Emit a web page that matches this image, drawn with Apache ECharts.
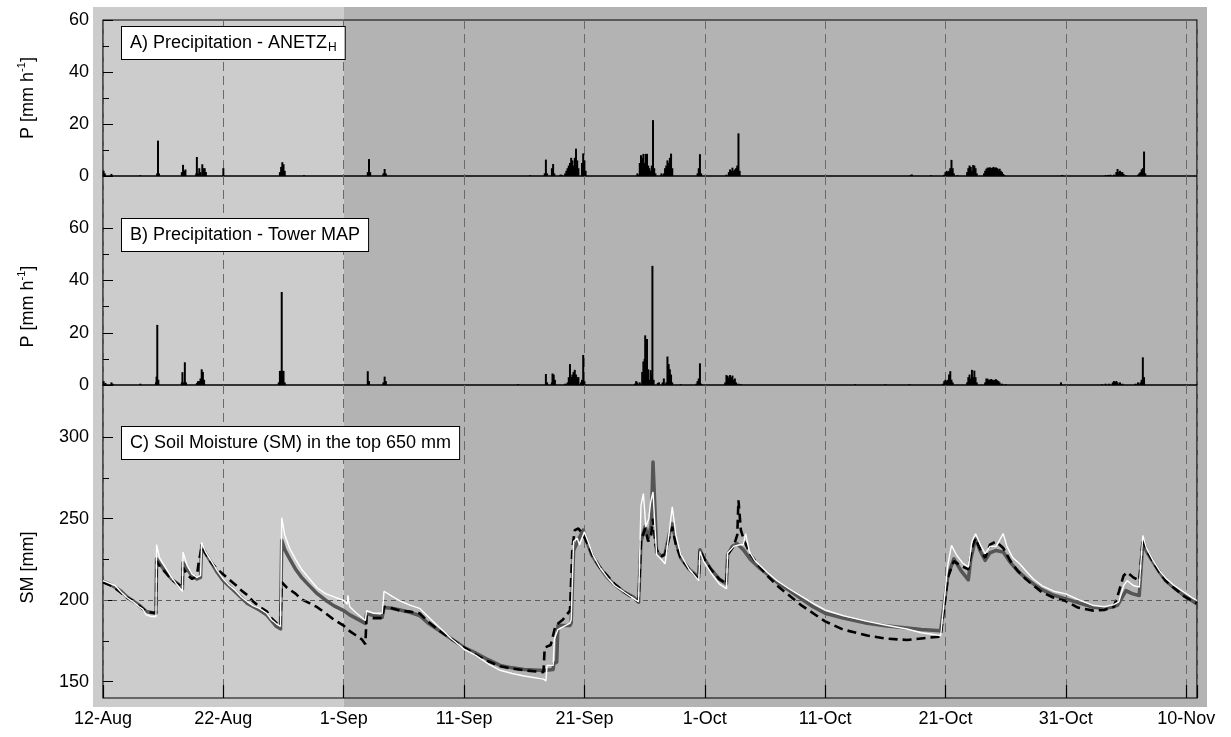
<!DOCTYPE html>
<html>
<head>
<meta charset="utf-8">
<script src="https://cdn.jsdelivr.net/npm/echarts@6/dist/echarts.min.js"></script>
<style>
html,body{margin:0;padding:0;background:#fff;}
#c{width:1231px;height:737px;}
</style>
</head>
<body>
<div id="c"></div>
<script>
// x positions are days since 12-Aug
const tickDays = [0,10,20,30,40,50,60,70,80,90];
const tickLabels = ["12-Aug","22-Aug","1-Sep","11-Sep","21-Sep","1-Oct","11-Oct","21-Oct","31-Oct","10-Nov"];
const xMax = 90.9;
const splitDay = 20; // 1-Sep, start of darker shaded period

// A) Precipitation - ANETZ_H  [day, mm/h]
const precipAnetz = [[0.05,2],[0.15,1],[0.7,0.8],[3.1,0.3],[4.5,1],[4.57,13.6],[4.65,1],[6.55,1.5],[6.65,4.3],[6.75,2],[6.85,2.5],[7.75,1],[7.8,7.3],[7.9,1],[8.0,3],[8.1,1.5],[8.25,4.5],[8.35,3],[8.45,3],[8.55,1.5],[10.0,3],[14.7,1.5],[14.8,3.5],[14.9,5.3],[15.0,4.5],[15.1,2],[16.7,0.3],[22.0,1.5],[22.1,6.5],[22.2,1.5],[23.3,1],[23.4,2.7],[23.5,1],
[35.5,0.3],[36.7,1],[36.8,6.3],[36.9,1],[37.3,3],[37.4,4.6],[37.5,1],[38.0,0.5],[38.1,0.5],[38.4,1],[38.5,2],[38.6,3],[38.7,4],[38.8,5],[38.9,7],[39.0,6],[39.1,4],[39.2,7],[39.3,10.5],[39.4,6],[39.5,3],[39.8,5],[39.9,8.7],[40.0,6],[40.1,2],
[44.4,1],[44.5,0.5],[44.6,5],[44.7,8],[44.8,7],[44.9,8.5],[45.0,5],[45.1,8.5],[45.2,8.5],[45.3,4],[45.4,3],[45.5,2],[45.6,4],[45.7,21.5],[45.8,3],[45.9,1],[46.4,1],[46.6,1],[46.7,3],[46.8,4],[46.9,6],[47.0,5],[47.1,7],[47.2,8.6],[47.3,3],[49.4,1],[49.5,3],[49.6,8.4],[49.7,1],[51.8,0.5],[52.0,1.5],[52.1,2.5],[52.2,2],[52.3,3.2],[52.4,2],[52.5,2.5],[52.6,3],[52.7,4],[52.8,16.4],[52.9,2],
[67.1,0.4],[67.2,0.6],[68.8,0.3],[69.9,0.5],[70.0,1.5],[70.1,2],[70.2,1.5],[70.3,2],[70.4,3],[70.5,6.2],[70.6,3],[70.7,1],[71.0,0.3],[71.8,1.5],[71.9,3],[72.0,4],[72.1,3.5],[72.2,2],[72.3,4.2],[72.4,4],[72.5,3],[72.6,1],[73.2,1],[73.3,2],[73.4,2.8],[73.5,3.2],[73.6,3.2],[73.7,3.3],[73.8,3],[73.9,3.2],[74.0,3.5],[74.1,3],[74.2,3.3],[74.3,3],[74.4,2.5],[74.5,2.8],[74.6,2],[74.7,1.5],[74.8,0.8],[74.9,0.3],[79.7,0.4],[83.3,0.3],[83.5,0.4],[83.7,0.5],[84.0,0.5],[84.2,1.5],[84.3,2.7],[84.4,1.5],[84.5,2],[84.6,1.5],[84.7,1.5],[84.8,0.8],[85.0,0.3],[86.0,0.5],[86.1,1],[86.2,1.5],[86.3,2.5],[86.4,3],[86.5,9.4],[86.6,1]];

// B) Precipitation - Tower MAP  [day, mm/h]
const precipTower = [[0.05,1.5],[0.2,0.8],[0.7,1],[0.8,0.5],[3.1,0.5],[4.4,1],[4.45,3.2],[4.51,23],[4.6,2],[6.55,1],[6.6,4.9],[6.7,1],[6.8,8.7],[6.9,1],[7.8,0.8],[7.9,1.5],[8.0,1.5],[8.1,2.5],[8.2,6],[8.3,5],[8.4,2],[14.6,1],[14.7,5.4],[14.8,5.4],[14.85,35.6],[14.9,5.4],[15.0,5.4],[15.1,1],[22.0,5.3],[22.1,1.5],[23.3,1],[23.4,3.2],[23.5,1.5],
[34.5,0.3],[36.8,4.2],[36.9,1],[37.3,1],[37.35,4.4],[37.45,4],[37.55,2],[38.4,0.5],[38.6,1],[38.7,3],[38.8,8],[38.9,3],[39.0,4],[39.1,5],[39.2,5.8],[39.3,4],[39.4,3],[39.5,3],[39.7,1],[39.8,2],[39.9,11.5],[40.0,1.5],
[44.2,0.5],[44.3,1.5],[44.4,1],[44.6,1],[44.8,5],[44.9,9],[45.0,10],[45.05,19],[45.1,5],[45.2,17.6],[45.3,6],[45.4,2],[45.5,5.7],[45.6,4],[45.65,45.6],[45.75,2],[46.1,0.8],[46.2,1],[46.5,1],[46.6,2.5],[46.8,1],[46.9,10.9],[47.0,8],[47.1,6],[47.2,4],[47.3,1],[48.0,0.3],[49.3,0.5],[49.4,1.5],[49.5,2.5],[49.6,8.3],[49.7,0.5],[51.7,1],[51.8,3.8],[51.9,3.5],[52.0,2.8],[52.1,3.8],[52.2,3],[52.3,3.6],[52.4,2],[52.5,2.5],[52.6,1],[52.8,0.5],[53.0,0.3],
[62.5,0.3],[65,0.3],[67.0,0.3],[69.8,0.5],[69.9,1.5],[70.0,2],[70.1,1.5],[70.2,2],[70.3,4],[70.4,5.3],[70.5,2],[70.6,1],[71.8,1],[71.9,3],[72.0,4],[72.1,2.5],[72.2,5.8],[72.3,3],[72.4,5.5],[72.5,3],[72.6,1],[73.3,1],[73.4,2.5],[73.5,2.4],[73.6,2],[73.7,2],[73.8,2.3],[73.9,2],[74.0,1.8],[74.1,2],[74.2,2.2],[74.3,1.8],[74.4,1.5],[74.5,1],[74.7,0.5],[75.0,0.3],[79.6,1],[83.0,0.3],[83.3,0.5],[83.6,0.5],[83.9,1],[84.0,1.5],[84.1,1.2],[84.2,1.5],[84.3,1],[84.5,1],[84.7,0.5],[85.8,0.5],[86.0,1],[86.2,1],[86.3,2],[86.4,10.6],[86.5,3]];

// C) Soil moisture, top 650 mm  [day, mm]
const smGray = [[0,211.5],[0.5,210],[1,208],[1.5,205.5],[2,202],[2.5,199.5],[3,197],[3.6,193],[4.0,192.5],[4.4,192],[4.45,225.4],[4.8,221.5],[5.2,217.5],[5.7,213],[6.2,210],[6.6,207],[6.65,223],[7.0,219],[7.4,215],[7.8,213],[8.1,214],[8.2,233.6],[8.5,229],[9.0,223],[9.5,217],[10,212],[10.5,208.5],[11,205],[11.5,201.5],[12,198],[12.5,196],[13,194],[13.6,191],[14.0,187.5],[14.4,184],[14.75,182.4],[14.85,236.7],[15.1,231],[15.5,225.5],[16,219],[16.5,214],[17,210],[17.8,204],[18.5,200],[19.2,196.5],[20,193.6],[20.5,191],[21,189],[21.8,185.8],[21.9,191.6],[22.5,190.5],[23.2,189.5],[23.35,195.5],[24,195],[24.7,194],[25.5,192.5],[26.3,190.6],[27,186],[28,181],[29,176],[30,171],[31,167.5],[32,163.5],[33,160],[34,158.5],[35,157.5],[36.6,156.8],[37.4,157.5],[37.45,161],[37.7,162],[37.8,184.4],[38.8,184.4],[38.9,186],[39.1,230.5],[39.5,237],[39.9,243],[40.2,236],[40.6,228],[41.2,221],[41.9,214],[42.5,209.5],[43.3,205],[44.1,201.8],[44.5,198.8],[44.7,236],[45.05,245],[45.3,238],[45.55,246],[45.7,284.8],[45.85,258],[46.0,229.5],[46.4,227],[46.7,228.4],[47.1,242],[47.3,246.9],[47.6,236],[48.0,226],[48.7,219],[49.5,214],[49.6,231],[49.9,226],[50.5,219],[51.2,213],[51.8,210],[51.9,228],[52.3,233],[52.7,234.6],[53.2,231],[53.8,225],[54.5,220],[55.2,216],[56,211],[57,206],[58,201],[59,196],[60,192],[61.5,189],[63.5,185.8],[65,184.3],[66.8,183],[68,182],[69.6,181.3],[69.75,181],[70.2,215],[70.7,225.4],[71.3,218],[71.9,212.5],[72.1,225],[72.5,237.7],[72.9,230],[73.3,224.4],[73.7,229],[74.2,230.5],[74.8,229.5],[75.4,223],[76,218],[76.6,214],[77.3,210],[78,206.5],[79,203],[80,200.8],[81,198.5],[82.3,195.7],[83.2,195],[84,196],[84.3,197],[84.7,202],[85,205.9],[85.5,204],[86.1,202.9],[86.4,235.6],[86.7,230],[87.2,224],[87.8,217],[88.3,212],[89,207.5],[89.8,203],[90.9,197.7]];

const smDash = [[0,211],[0.5,209.5],[1,207.5],[1.5,204.5],[2,201.5],[2.5,199.5],[3,196.5],[3.6,193],[4.0,192.5],[4.4,192],[4.45,224],[4.8,220],[5.2,217],[5.7,212.5],[6.2,210],[6.6,208],[6.65,220],[7.0,215.5],[7.4,213],[7.8,215],[7.95,223],[8.2,233],[8.5,229],[9.0,223],[9.5,219],[10,215.8],[10.5,212.5],[11,209.5],[11.5,206],[12,203],[12.5,199],[13,196],[13.6,193.2],[14.0,189],[14.4,186],[14.75,184],[14.85,211],[15.3,207.5],[16,204],[16.5,200.5],[17.2,198],[17.8,195.7],[18.5,192],[19.2,188],[20,184.4],[20.5,181],[21,178.5],[21.5,176],[21.8,173],[21.9,190],[22.5,189],[23.2,189],[23.35,196],[24,195],[24.7,193.5],[25.5,193],[26.3,192],[27,187],[28,181],[29,176],[30,171],[31,166.5],[32,162.5],[33,159.5],[34,158],[35,157],[36.6,155.8],[36.7,171],[37.2,172.5],[37.6,184.4],[38.2,188],[38.8,193.6],[39.0,232],[39.2,243],[39.5,244],[39.9,240],[40.3,234],[40.7,227],[41.3,220],[41.9,215],[42.5,210],[43.3,205],[44.1,201],[44.5,199],[44.7,236],[45.05,244],[45.3,236],[45.55,240],[45.7,250],[45.9,234],[46.0,231],[46.4,227],[46.7,228],[47.1,240],[47.3,245],[47.6,234],[48.0,226],[48.7,219],[49.5,213],[49.6,231],[49.9,226],[50.5,219],[51.2,213],[51.8,210],[51.9,228],[52.4,233],[52.7,240],[52.8,261.3],[53.0,243],[53.3,236],[53.8,228],[54.5,221],[55.2,215],[56,209],[57,203],[58,197],[59,192],[60,187],[61.5,182],[63.5,178.3],[65,176.5],[66.8,175.6],[68,176.5],[69.6,177.7],[69.75,178],[70.2,214],[70.7,224],[71.3,221],[71.9,219],[72.2,232],[72.5,238],[72.9,231],[73.3,226],[73.7,234],[74.2,236],[74.8,232],[75.4,224],[76,218],[76.6,213.5],[77.3,209],[78,205],[79,201.5],[80,199.5],[81,195.5],[82.3,193.6],[83.2,194],[84,196],[84.4,205],[84.8,215],[85.1,217.2],[85.6,214],[86.1,212],[86.4,238],[86.7,231],[87.2,224],[87.8,217],[88.3,212],[89,207.5],[89.8,202.5],[90.9,198]];

const smWhite = [[0,212],[0.5,210.5],[1,209],[1.5,205],[2,201.5],[2.5,199],[3,196],[3.3,194.5],[3.6,191],[4.0,190],[4.4,190],[4.45,234],[4.7,226],[5.1,221],[5.6,215],[6.1,210],[6.6,205.5],[6.65,229.5],[7.0,221],[7.4,216],[7.8,214],[8.1,215],[8.2,235.3],[8.5,230],[9.0,224],[9.5,218],[10,213],[10.5,209],[11,206],[11.5,202],[12,199],[12.5,196.5],[13,195],[13.6,192],[14.0,188],[14.4,185.5],[14.75,184],[14.85,250.6],[15.1,240],[15.5,232],[16,225],[16.5,219],[17,214.5],[17.8,207.5],[18.5,204],[19.2,202],[20,199.8],[20.3,197.5],[20.35,203],[20.5,196],[21,192.5],[21.8,187.5],[21.9,193.5],[22.5,192],[23.2,192],[23.35,205.5],[24,202.5],[24.7,199.5],[25.5,197],[26.3,195],[27,190],[28,183],[29,176],[30,170],[31,166],[32,161],[33,157],[34,155],[35,153.5],[36.6,151.6],[36.8,150.5],[36.9,160],[37.4,160],[37.5,176],[37.8,182],[38.8,186],[38.9,188],[39.1,236],[39.4,238],[39.6,234],[40.0,242],[40.3,236],[40.7,228],[41.3,220],[41.9,214],[42.5,209],[43.3,205],[44.1,201],[44.5,199],[44.7,258],[44.9,265.4],[45.1,245],[45.35,250],[45.5,260],[45.7,266.4],[45.9,240],[46.0,228],[46.4,225],[46.7,222.3],[47.1,245],[47.3,257.2],[47.6,240],[48.0,228],[48.7,219],[49.5,212],[49.6,230],[49.9,224],[50.5,217],[51.2,210],[51.8,207],[51.9,229],[52.4,233],[52.9,234],[53.2,234],[53.4,240.8],[53.7,230],[54.2,224],[55.2,217],[56,212],[57,207],[58,202.5],[59,198],[60,194],[61.5,190.5],[63.5,187],[65,184.8],[66.8,182.3],[68,180],[69.6,178.3],[69.75,178],[70.2,222],[70.5,233.6],[70.9,228],[71.4,223],[71.9,220.3],[72.2,236],[72.5,240.8],[72.9,234],[73.3,228.6],[73.7,233],[74.2,233],[74.8,240.8],[75.1,233],[75.6,226],[76.2,222],[76.8,217],[77.3,213],[78,209],[79,205.5],[80,203.9],[81,200.5],[82.3,196.7],[83.2,196],[84,197.3],[84.4,199],[84.8,209],[85.1,212],[85.6,209],[86.1,208],[86.4,239.7],[86.7,232],[87.2,225],[87.8,218],[88.3,213.5],[89,209],[89.8,205],[90.5,201.5],[90.9,199.8]];

const pTicksMajor = [0,20,40,60];
const pTicksMinor = [10,30,50];
const smTicksMajor = [150,200,250,300];
const smTicksMinor = [175,225,275];
const smRefLine = 200;

const FONT = 'Liberation Sans, Arial, Helvetica, sans-serif';
const chart = echarts.init(document.getElementById('c'), null, {renderer:'canvas'});

const grids = [
  {left:103, right:34, top:20, height:156},
  {left:103, right:34, top:176, height:209},
  {left:103, right:34, top:385, height:313}
].map(g => Object.assign(g, {show:true, borderColor:'#000', borderWidth:1.2, backgroundColor:'transparent', containLabel:false}));

function xAx(i, showLabels){
  return {
    type:'value', gridIndex:i, min:0, max:xMax, interval:10, position:'bottom',
    axisLine:{show:false},
    axisTick:{show:showLabels, inside:true, length:13, lineStyle:{color:'#000', width:1.2}},
    axisLabel:{show:showLabels, color:'#000', fontSize:18, fontFamily:FONT, margin:12,
      formatter: v => { const k = tickDays.indexOf(Math.round(v*1000)/1000); return k>=0 ? tickLabels[k] : ''; }},
    splitLine:{show:true, lineStyle:{color:'#6a6a6a', width:1, type:[9,5]}}
  };
}
function yAx(i, min, max, major, minor){
  return [{
    type:'value', gridIndex:i, min:min, max:max, position:'left',
    axisLine:{show:false},
    axisTick:{show:true, inside:true, length:10, customValues:major, lineStyle:{color:'#000', width:1}},
    axisLabel:{show:true, customValues:major, color:'#000', fontSize:18, fontFamily:FONT, margin:14},
    splitLine:{show:false}
  },{
    type:'value', gridIndex:i, min:min, max:max, position:'left', offset:0,
    axisLine:{show:false},
    axisTick:{show:true, inside:true, length:6, customValues:minor, lineStyle:{color:'#000', width:1}},
    axisLabel:{show:false},
    splitLine:{show:false}
  }];
}

const option = {
  animation:false,
  backgroundColor:'#fff',
  grid: grids,
  xAxis: [xAx(0,false), xAx(1,false), xAx(2,true)],
  yAxis: [].concat(yAx(0,0,60,pTicksMajor,pTicksMinor), yAx(1,0,80,pTicksMajor,pTicksMinor), yAx(2,140,332,smTicksMajor,smTicksMinor)),
  series: [
    {type:'bar', xAxisIndex:0, yAxisIndex:0, data:precipAnetz, barWidth:2, itemStyle:{color:'#000'}, z:3},
    {type:'bar', xAxisIndex:1, yAxisIndex:2, data:precipTower, barWidth:2, itemStyle:{color:'#000'}, z:3},
    {type:'line', xAxisIndex:2, yAxisIndex:4, data:smGray, showSymbol:false, symbol:'none',
      lineStyle:{color:'#555555', width:3.5, join:'round'}, z:3,
      markLine:{silent:true, symbol:'none', label:{show:false}, lineStyle:{color:'#5a5a5a', width:1, type:[5,4]}, data:[{yAxis:smRefLine}]}},
    {type:'line', xAxisIndex:2, yAxisIndex:4, data:smDash, showSymbol:false, symbol:'none',
      lineStyle:{color:'#000', width:2.6, type:[9,5]}, z:4},
    {type:'line', xAxisIndex:2, yAxisIndex:4, data:smWhite, showSymbol:false, symbol:'none',
      lineStyle:{color:'#ffffff', width:1.4}, z:5}
  ]
};
chart.setOption(option);

// Background shading and labels, placed through the axes' own scales
const xL = chart.convertToPixel({xAxisIndex:0}, 0);
const xS = chart.convertToPixel({xAxisIndex:0}, splitDay);
const xR = chart.convertToPixel({xAxisIndex:0}, xMax);
const yT = chart.convertToPixel({yAxisIndex:0}, 60);
const yB = chart.convertToPixel({yAxisIndex:4}, 140);
const pad = {l:10, r:10, t:13, b:9};

const yNameA = chart.convertToPixel({yAxisIndex:0}, 30);
const yNameB = chart.convertToPixel({yAxisIndex:2}, 30);
const yNameC = chart.convertToPixel({yAxisIndex:4}, 220);

const unitRich = {
  a:{fontSize:18, fontFamily:FONT, color:'#000', lineHeight:24, verticalAlign:'middle'},
  s:{fontSize:11, fontFamily:FONT, color:'#000', lineHeight:24, verticalAlign:'top'}
};
function yName(y, txt){
  return {type:'text', x:28, y:y, rotation:Math.PI/2, z:10,
    style:{text:txt, rich:unitRich, align:'center', verticalAlign:'middle', fill:'#000'}};
}
function boxText(x, y, txt, rich){
  return {type:'text', x:x, y:y, z:20,
    style:{text:txt, rich:rich, font:'18px '+FONT, fill:'#000', backgroundColor:'#fff', borderColor:'#000', borderWidth:1,
      padding:[5,8,5,8], lineHeight:22}};
}
const boxRich = {
  a:{fontSize:18, fontFamily:FONT, color:'#000', lineHeight:22, verticalAlign:'middle'},
  sub:{fontSize:12, fontFamily:FONT, color:'#000', lineHeight:22, verticalAlign:'bottom', padding:[10,0,0,1]}
};

chart.setOption({
  graphic:[
    {type:'rect', z:-10, silent:true, shape:{x:xL-pad.l, y:yT-pad.t, width:xS-(xL-pad.l), height:(yB+pad.b)-(yT-pad.t)}, style:{fill:'#cccccc'}},
    {type:'rect', z:-10, silent:true, shape:{x:xS, y:yT-pad.t, width:(xR+pad.r)-xS, height:(yB+pad.b)-(yT-pad.t)}, style:{fill:'#b3b3b3'}},
    yName(yNameA, '{a|P [mm h}{s|-1}{a|]}'),
    yName(yNameB, '{a|P [mm h}{s|-1}{a|]}'),
    yName(yNameC, '{a|SM [mm]}'),
    boxText(122, 27, '{a|A) Precipitation - ANETZ}{sub|H}', boxRich),
    boxText(122, 219, '{a|B) Precipitation - Tower MAP}', boxRich),
    boxText(122, 427, '{a|C) Soil Moisture (SM) in the top 650 mm}', boxRich)
  ]
});
</script>
</body>
</html>
